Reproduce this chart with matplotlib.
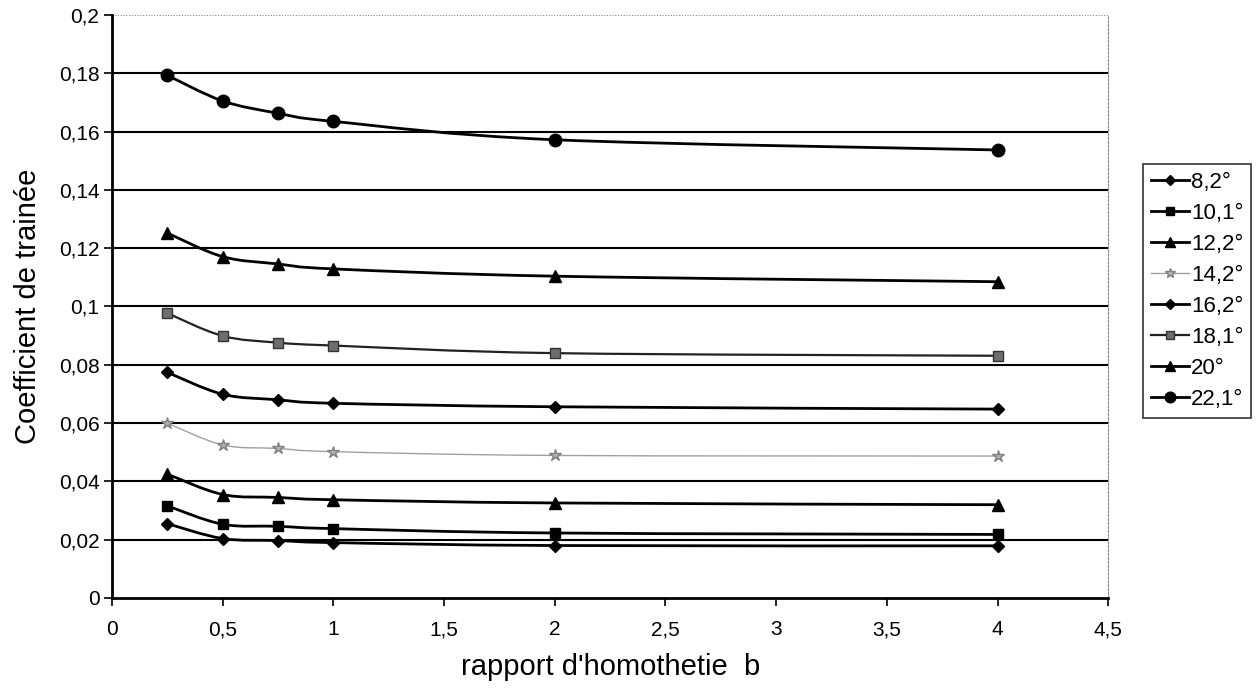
import matplotlib.pyplot as plt
from matplotlib.path import Path
from matplotlib.patches import PathPatch
from matplotlib.lines import Line2D
from matplotlib.ticker import FuncFormatter

plt.rcParams['font.family'] = ['Liberation Sans', 'DejaVu Sans']

# rapport d'homothetie b
b = [0.25, 0.5, 0.75, 1, 2, 4]

# coefficient de trainee, one list per angle
cd_8_2 = [0.0255, 0.0204, 0.0197, 0.0190, 0.0180, 0.0179]
cd_10_1 = [0.0316, 0.0253, 0.0246, 0.0238, 0.0223, 0.0218]
cd_12_2 = [0.0425, 0.0355, 0.0345, 0.0337, 0.0326, 0.0320]
cd_14_2 = [0.0600, 0.0525, 0.0513, 0.0502, 0.0489, 0.0487]
cd_16_2 = [0.0774, 0.0699, 0.0680, 0.0668, 0.0656, 0.0648]
cd_18_1 = [0.0977, 0.0899, 0.0876, 0.0866, 0.0840, 0.0831]
cd_20 = [0.1252, 0.1171, 0.1146, 0.1129, 0.1104, 0.1085]
cd_22_1 = [0.1793, 0.1705, 0.1663, 0.1635, 0.1572, 0.1537]

labels = ["8,2°", "10,1°", "12,2°", "14,2°", "16,2°", "18,1°", "20°", "22,1°"]
series = [cd_8_2, cd_10_1, cd_12_2, cd_14_2, cd_16_2, cd_18_1, cd_20, cd_22_1]

# line colour, width, marker, marker size, marker face, marker edge
styles = [
    ("black", 2.0, "D", 6, "black", "black"),
    ("black", 2.0, "s", 7.5, "black", "black"),
    ("black", 2.0, "^", 8, "black", "black"),
    ("#a0a0a0", 1.0, "*", 9, "#b0b0b0", "#808080"),
    ("black", 2.0, "D", 6, "black", "black"),
    ("#222222", 1.6, "s", 7.5, "#6e6e6e", "#333333"),
    ("black", 2.0, "^", 8, "black", "black"),
    ("black", 2.0, "o", 9, "black", "black"),
]


def smooth_path(xs, ys):
    # Catmull-Rom style bezier through the points (like the spreadsheet smoothed line)
    pts = list(zip(xs, ys))
    n = len(pts)
    verts = [pts[0]]
    codes = [Path.MOVETO]
    for i in range(n - 1):
        p0 = pts[i - 1] if i > 0 else pts[i]
        p1 = pts[i]
        p2 = pts[i + 1]
        p3 = pts[i + 2] if i + 2 < n else pts[i + 1]
        c1 = (p1[0] + (p2[0] - p0[0]) / 6, p1[1] + (p2[1] - p0[1]) / 6)
        c2 = (p2[0] - (p3[0] - p1[0]) / 6, p2[1] - (p3[1] - p1[1]) / 6)
        verts += [c1, c2, p2]
        codes += [Path.CURVE4] * 3
    return Path(verts, codes)


fig = plt.figure(figsize=(12.58, 6.91), dpi=100)
ax = fig.add_axes([0.089, 0.1346, 0.792, 0.8437])

ax.set_xlim(0, 4.5)
ax.set_ylim(0, 0.2)

# horizontal grid
for yv in [0.02, 0.04, 0.06, 0.08, 0.10, 0.12, 0.14, 0.16, 0.18]:
    ax.axhline(yv, color="black", lw=1.5, zorder=1)
ax.axhline(0.2, color="#888888", lw=0.8, ls=(0, (1, 1.5)), zorder=1)

handles = []
for ys, lab, (col, lw, mk, ms, mfc, mec) in zip(series, labels, styles):
    patch = PathPatch(smooth_path(b, ys), facecolor="none", edgecolor=col, lw=lw, zorder=3)
    ax.add_patch(patch)
    ax.plot(b, ys, ls="none", marker=mk, ms=ms, mfc=mfc, mec=mec, zorder=4)
    handles.append(Line2D([], [], color=col, lw=lw, marker=mk, ms=ms * 0.85, mfc=mfc, mec=mec))

ax.spines["top"].set_visible(False)
ax.spines["right"].set_color("#888888")
ax.spines["right"].set_linewidth(0.8)
ax.spines["right"].set_linestyle((0, (2, 1.5)))
ax.spines["left"].set_linewidth(2)
ax.spines["bottom"].set_linewidth(2)

ax.set_xticks([0, 0.5, 1, 1.5, 2, 2.5, 3, 3.5, 4, 4.5])
ax.set_yticks([0, 0.02, 0.04, 0.06, 0.08, 0.1, 0.12, 0.14, 0.16, 0.18, 0.2])
comma = FuncFormatter(lambda v, p: f"{v:g}".replace(".", ","))
ax.xaxis.set_major_formatter(comma)
ax.yaxis.set_major_formatter(comma)
ax.tick_params(axis="both", direction="out", length=6, width=1.2, labelsize=15, colors="black")
ax.tick_params(axis="x", pad=10)
ax.tick_params(axis="y", pad=3)

ax.set_xlabel("rapport d'homothetie  b", fontsize=21, labelpad=10)
ax.set_ylabel("Coefficient de trainée", fontsize=21, labelpad=12)

leg = fig.legend(handles, labels, loc="upper left", bbox_to_anchor=(0.9086, 0.762),
                 fontsize=16, frameon=True, fancybox=False, handlelength=1.7,
                 handletextpad=0.1, labelspacing=0.45, borderpad=0.35, borderaxespad=0)
leg.get_frame().set_edgecolor("black")
leg.get_frame().set_linewidth(1.2)

fig.savefig("out.png", dpi=100)
